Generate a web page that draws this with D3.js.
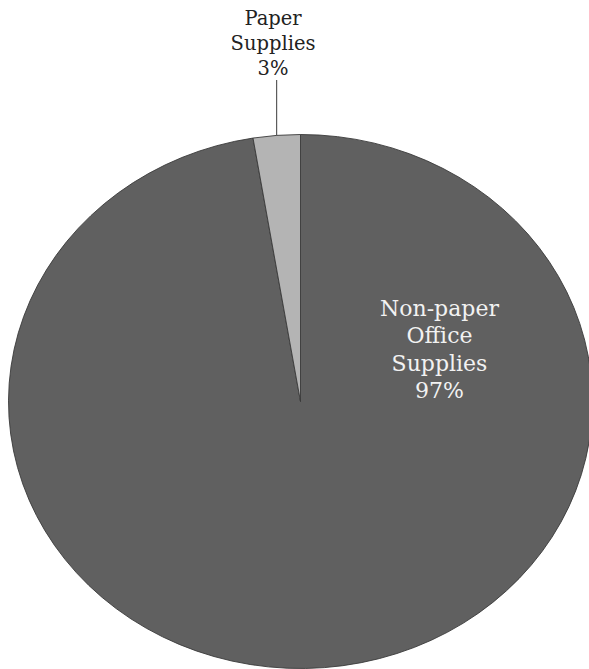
<!DOCTYPE html>
<html>
<head>
<meta charset="utf-8">
<script src="https://cdn.jsdelivr.net/npm/d3@7"></script>
<style>
  html, body { margin: 0; padding: 0; background: #ffffff; }
  svg { display: block; }
</style>
</head>
<body>
<svg id="chart" width="589" height="669"></svg>
<script>
// Data
const categories = ["Non-paper Office Supplies", "Paper Supplies"];
const values = [97.4, 2.6];
const labelLines = [["Non-paper", "Office", "Supplies"], ["Paper", "Supplies"]];
const colors = ["#606060", "#b4b4b4"];

const svg = d3.select("#chart");
const W = 589, H = 669;
const cx = 300.5, cy = 401.5, rx = 292, ry = 267;

const total = d3.sum(values);
const pct = values.map(v => Math.round(v / total * 100) + "%");

const pie = d3.pie().sort(null).startAngle(0).endAngle(2 * Math.PI);
const arcs = pie(values);
const arc = d3.arc().innerRadius(0).outerRadius(ry);

const g = svg.append("g")
  .attr("transform", `translate(${cx},${cy}) scale(${rx / ry},1)`);

g.selectAll("path")
  .data(arcs)
  .join("path")
  .attr("d", arc)
  .attr("fill", (d, i) => colors[i])
  .attr("stroke", "#3a3a3a")
  .attr("stroke-width", 0.9)
  .attr("vector-effect", "non-scaling-stroke")
  .attr("stroke-linejoin", "round");

// Elliptical point helper
function pt(angle, fx, fy) {
  return [cx + rx * fx * Math.sin(angle), cy - ry * fy * Math.cos(angle)];
}

// Outside label for Paper Supplies with leader line
const pa = arcs[1];
const mid = (pa.startAngle + pa.endAngle) / 2;
const p0 = pt(mid, 1, 1);
svg.append("line")
  .attr("x1", p0[0]).attr("y1", p0[1])
  .attr("x2", p0[0]).attr("y2", 80)
  .attr("stroke", "#3a3a3a").attr("stroke-width", 1);

const outLines = labelLines[1].concat([pct[1]]);
const outText = svg.append("text")
  .attr("text-anchor", "middle")
  .attr("font-family", "DejaVu Serif, serif")
  .attr("font-size", 19.5)
  .attr("fill", "#222222");
outText.selectAll("tspan")
  .data(outLines)
  .join("tspan")
  .attr("x", 273)
  .attr("y", (d, i) => 25 + i * 25)
  .text(d => d);

// Inside label for Non-paper Office Supplies
const inLines = labelLines[0].concat([pct[0]]);
const inX = cx + rx * 0.476;
const inText = svg.append("text")
  .attr("text-anchor", "middle")
  .attr("font-family", "DejaVu Serif, serif")
  .attr("font-size", 22)
  .attr("fill", "#f2f2f2");
inText.selectAll("tspan")
  .data(inLines)
  .join("tspan")
  .attr("x", inX)
  .attr("y", (d, i) => 316 + i * 27.3)
  .text(d => d);
</script>
</body>
</html>
